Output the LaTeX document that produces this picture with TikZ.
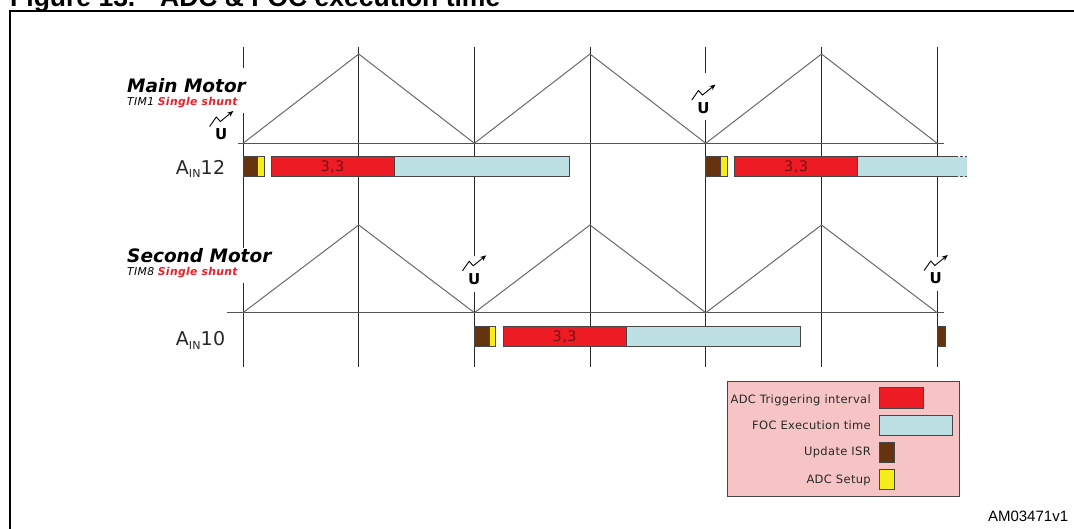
\documentclass[tikz,border=0pt]{standalone}
\usepackage{fontspec}
\setmainfont{DejaVu Sans}[ItalicFont={DejaVu Sans Oblique},BoldItalicFont={DejaVu Sans Bold Oblique}]
\newfontfamily\arialfont{Liberation Sans}
\newfontfamily\wideverd{DejaVu Sans}[LetterSpace=3,ItalicFont={DejaVu Sans Oblique},BoldItalicFont={DejaVu Sans Bold Oblique}]
\usetikzlibrary{arrows.meta}
\definecolor{barred}{RGB}{237,28,36}
\definecolor{barcyan}{RGB}{188,224,228}
\definecolor{barbrown}{RGB}{102,51,17}
\definecolor{baryellow}{RGB}{245,236,26}
\definecolor{legpink}{RGB}{247,196,198}
\definecolor{valred}{RGB}{115,18,20}
\definecolor{shuntred}{RGB}{232,32,42}
\definecolor{gridc}{RGB}{40,40,40}
\definecolor{triac}{RGB}{105,105,105}
\definecolor{bord}{RGB}{70,70,70}
\definecolor{txtc}{RGB}{40,40,40}
\tikzset{
  gridline/.style={draw=gridc, line width=1},
  baseln/.style={draw=gridc!80, line width=1},
  tria/.style={draw=triac, line width=1},
  bar/.style={draw=bord, line width=1},
  ainlbl/.style={anchor=base east, inner sep=0, text=txtc, font=\wideverd\fontsize{19}{19}\selectfont},
  motorlbl/.style={anchor=base west, inner sep=0, font=\bfseries\itshape\fontsize{18.5}{18.5}\selectfont},
  timlbl/.style={anchor=base west, inner sep=0, font=\wideverd\fontsize{10.8}{10.8}\selectfont},
  vallbl/.style={inner sep=0, text=valred, font=\wideverd\fontsize{14.5}{14.5}\selectfont},
  leglbl/.style={anchor=base east, inner sep=0, text=txtc, font=\wideverd\fontsize{11.5}{11.5}\selectfont},
  uicon/.pic={
    \draw[line width=0.9, -{Stealth[length=6pt,width=5pt]}] (-11.7,-8) -- (-5,-17.5) -- (-1,-13) -- (12,-23.5);
    \node[inner sep=0, font=\bfseries\fontsize{15}{15}\selectfont] (u) at (0,0) {U};
  }
}
\newcommand{\ainsub}[1]{A\raisebox{-3pt}{\fontsize{11}{11}\selectfont IN}#1}
\begin{document}
\begin{tikzpicture}[x=1pt,y=-1pt]
\useasboundingbox (0,0) rectangle (1074,529);
\clip (0,0) rectangle (1074,529);

% title (cut off by the top edge, as in the reference)
\node[anchor=base west, inner sep=0, font=\arialfont\bfseries\fontsize{26.5}{26.5}\selectfont] (title) at (10,6.5) {Figure 13.\hspace{24.8pt}ADC \& FOC execution time};

% frame
\draw[line width=2] (10,540) -- (10,11) -- (1085,11);

% vertical grid lines (with gaps behind labels and icons)
\draw[gridline] (243,47) -- (243,68) (243,113) -- (243,248) (243,283) -- (243,367);
\draw[gridline] (358.7,47) -- (358.7,367);
\draw[gridline] (474.4,47) -- (474.4,256) (474.4,292) -- (474.4,367);
\draw[gridline] (590,47) -- (590,367);
\draw[gridline] (705.8,47) -- (705.8,73) (705.8,120) -- (705.8,367);
\draw[gridline] (821.5,47) -- (821.5,367);
\draw[gridline] (937.2,47) -- (937.2,257) (937.2,291) -- (937.2,367);

% baselines
\draw[baseln] (238,143.3) -- (944,143.3);
\draw[baseln] (227,312.7) -- (944,312.7);

% triangle carriers
\draw[tria] (243,143.3) -- (358.7,54) -- (474.4,143.3) -- (590,54) -- (705.8,143.3) -- (821.5,54) -- (937.2,143.3);
\draw[tria] (243,312.7) -- (358.7,225) -- (474.4,312.7) -- (590,225) -- (705.8,312.7) -- (821.5,225) -- (937.2,312.7);

% top row bars
\draw[bar, fill=barbrown] (243,157) rectangle (257,177);
\draw[bar, fill=baryellow] (257,157) rectangle (264,177);
\draw[bar, fill=barred] (271,157) rectangle (394,177);
\draw[bar, fill=barcyan] (394,157) rectangle (569,177);
\node[vallbl] (v1) at (332.5,167) {3,3};

\draw[bar, fill=barbrown] (705.8,157) rectangle (720.7,177);
\draw[bar, fill=baryellow] (720.7,157) rectangle (727.7,177);
\draw[bar, fill=barred] (734.7,157) rectangle (857.7,177);
\fill[barcyan] (857.7,157) rectangle (967,177);
\draw[bar] (857.7,157) -- (955,157) (857.7,177) -- (955,177);
\draw[bar, dash pattern=on 3pt off 2pt] (955,157) -- (967,157) (955,177) -- (967,177);
\node[vallbl] (v2) at (796.2,167) {3,3};

% bottom row bars
\draw[bar, fill=barbrown] (474.4,327) rectangle (489,347);
\draw[bar, fill=baryellow] (489,327) rectangle (495.7,347);
\draw[bar, fill=barred] (503,327) rectangle (626.3,347);
\draw[bar, fill=barcyan] (626.3,327) rectangle (800,347);
\node[vallbl] (v3) at (564.6,337) {3,3};
\draw[bar, fill=barbrown] (937.7,327) rectangle (945,347);

% channel labels
\node[ainlbl] (ain12) at (225.5,175) {\ainsub{12}};
\node[ainlbl] (ain10) at (225.5,346) {\ainsub{10}};

% motor labels
\node[motorlbl] (mainm) at (127,92.7) {Main Motor};
\node[timlbl] (tim1) at (127,105.5) {\itshape TIM1 \textcolor{shuntred}{\bfseries\itshape Single shunt}};
\node[motorlbl] (secm) at (127,262.3) {Second Motor};
\node[timlbl] (tim8) at (127,275.7) {\itshape TIM8 \textcolor{shuntred}{\bfseries\itshape Single shunt}};

% update icons
\pic (ua) at (221.3,134.5) {uicon};
\pic (ub) at (703.5,108) {uicon};
\pic (uc) at (474.2,278.8) {uicon};
\pic (ud) at (935.8,278.5) {uicon};

% legend
\draw[bar, fill=legpink] (727.3,381) rectangle (959.3,496);
\draw[bar, fill=barred] (879.3,387.7) rectangle (923.3,408.3);
\draw[bar, fill=barcyan] (879.3,415) rectangle (952.3,435.7);
\draw[bar, fill=barbrown] (879.3,442.3) rectangle (894.3,462.3);
\draw[bar, fill=baryellow] (879.3,469) rectangle (894.3,489.3);
\node[leglbl] (l1) at (871,403.3) {ADC Triggering interval};
\node[leglbl] (l2) at (871,429) {FOC Execution time};
\node[leglbl] (l3) at (871,455.7) {Update ISR};
\node[leglbl] (l4) at (871,483) {ADC Setup};

% figure id
\node[anchor=base east, inner sep=0, font=\arialfont\fontsize{15}{15}\selectfont] (amid) at (1068.3,521) {AM03471v1};
\end{tikzpicture}
\end{document}
